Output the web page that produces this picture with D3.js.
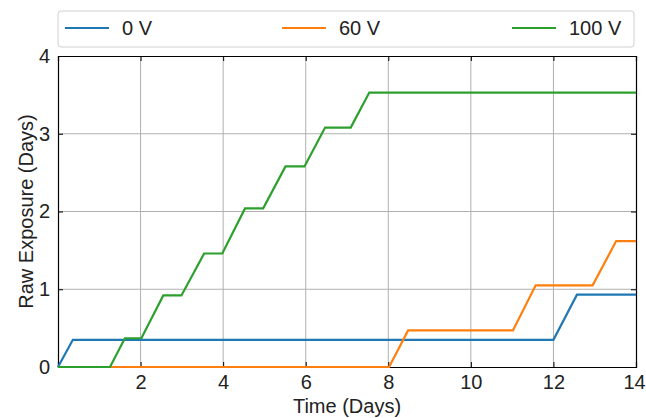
<!DOCTYPE html>
<html lang="en">
<head>
<meta charset="utf-8">
<title>Raw Exposure</title>
<script src="https://cdn.jsdelivr.net/npm/d3@7"></script>
<style>
  body { margin: 0; background: #fff; }
  text { font-family: "Liberation Sans", Arial, sans-serif; fill: #222; }
</style>
</head>
<body>
<script>
// series: [day, exposure days]
var series = ["0 V", "60 V", "100 V"];
var colors = ["#1f77b4", "#ff7f0e", "#2ca02c"];

var v0 = [[0, 0], [0.36, 0.35], [12.0, 0.35], [12.57, 0.93], [14, 0.93]];
var v60 = [[0, 0], [8.02, 0], [8.48, 0.47], [11.02, 0.47], [11.57, 1.05], [12.95, 1.05], [13.52, 1.62], [14, 1.62]];
var v100 = [[0, 0], [1.26, 0], [1.62, 0.37], [2.02, 0.37], [2.55, 0.92], [2.99, 0.92], [3.54, 1.46],
            [3.98, 1.46], [4.53, 2.04], [4.97, 2.04], [5.51, 2.58], [5.97, 2.58], [6.47, 3.08],
            [7.09, 3.08], [7.54, 3.53], [14, 3.53]];

var xTicks = [2, 4, 6, 8, 10, 12, 14];
var yTicks = [0, 1, 2, 3, 4];

var w = 646, h = 418;
var m = {left: 58, right: 10, top: 56, bottom: 51};

var svg = d3.select("body").append("svg")
    .attr("width", w).attr("height", h);

var x = d3.scaleLinear().domain([0, 14]).range([m.left, w - m.right]);
var y = d3.scaleLinear().domain([0, 4]).range([h - m.bottom, m.top]);

// grid
svg.append("g").selectAll("line").data(xTicks.slice(0, -1)).enter().append("line")
    .attr("x1", d => x(d)).attr("x2", d => x(d))
    .attr("y1", y(0)).attr("y2", y(4))
    .attr("stroke", "#b0b0b0").attr("stroke-width", 1);
svg.append("g").selectAll("line").data(yTicks.slice(1, -1)).enter().append("line")
    .attr("y1", d => y(d)).attr("y2", d => y(d))
    .attr("x1", x(0)).attr("x2", x(14))
    .attr("stroke", "#b0b0b0").attr("stroke-width", 1);

// axes, ticks pointing inward
var xAxis = svg.append("g").attr("transform", "translate(0," + y(0) + ")")
    .call(d3.axisBottom(x).tickValues(xTicks).tickSize(-5).tickPadding(8));
var xTop = svg.append("g").attr("transform", "translate(0," + y(4) + ")")
    .call(d3.axisTop(x).tickValues(xTicks).tickSize(-5).tickFormat(""));
var yAxis = svg.append("g").attr("transform", "translate(" + x(0) + ",0)")
    .call(d3.axisLeft(y).tickValues(yTicks).tickSize(-5).tickPadding(8).tickFormat(d3.format("d")));
var yRight = svg.append("g").attr("transform", "translate(" + x(14) + ",0)")
    .call(d3.axisRight(y).tickValues(yTicks).tickSize(-5).tickFormat(""));

[xAxis, xTop, yAxis, yRight].forEach(function(g) {
  g.select(".domain").attr("stroke", "#000").attr("stroke-width", 1.2);
  g.selectAll(".tick line").attr("stroke", "#000");
  g.selectAll("text").attr("font-size", "20px").attr("fill", "#222")
    .attr("font-family", "'Liberation Sans', Arial, sans-serif");
});
// keep the last label inside the page
xAxis.selectAll(".tick text").filter(d => d === 14).attr("dx", -2);

// lines
var line = d3.line().x(d => x(d[0])).y(d => y(d[1]));
var data = [v0, v60, v100];
svg.append("g").selectAll("path").data(data).enter().append("path")
    .attr("d", line)
    .attr("fill", "none")
    .attr("stroke", (d, i) => colors[i])
    .attr("stroke-width", 2.2);

// axis labels
svg.append("text")
    .attr("x", (x(0) + x(14)) / 2).attr("y", 413)
    .attr("text-anchor", "middle").attr("font-size", "20px")
    .text("Time (Days)");
svg.append("text")
    .attr("transform", "translate(33," + (y(2)) + ") rotate(-90)")
    .attr("text-anchor", "middle").attr("font-size", "20px")
    .text("Raw Exposure (Days)");

// legend
var lg = svg.append("g");
lg.append("rect")
    .attr("x", 58).attr("y", 11).attr("width", 576).attr("height", 36)
    .attr("rx", 3).attr("fill", "#fff").attr("stroke", "#d0d0d0");
var legX = [65, 282, 512];
lg.selectAll("line").data(series).enter().append("line")
    .attr("x1", (d, i) => legX[i]).attr("x2", (d, i) => legX[i] + 44)
    .attr("y1", 28).attr("y2", 28)
    .attr("stroke", (d, i) => colors[i]).attr("stroke-width", 2.2);
lg.selectAll("text").data(series).enter().append("text")
    .attr("x", (d, i) => legX[i] + 57).attr("y", 35)
    .attr("font-size", "20px")
    .text(d => d);
</script>
</body>
</html>
